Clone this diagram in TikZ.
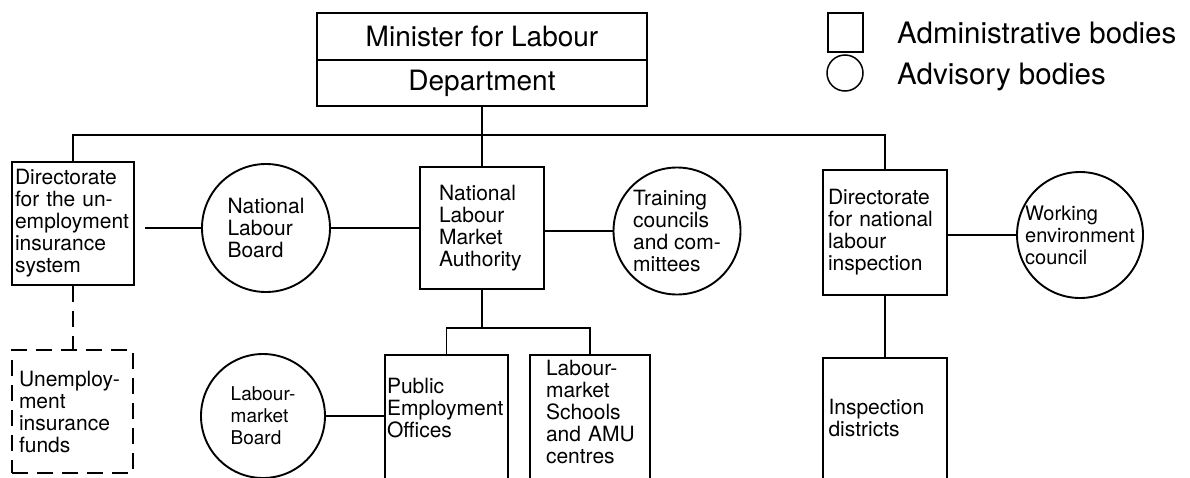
\documentclass[tikz,border=0pt]{standalone}
\usepackage{fontspec}
\setmainfont{TeX Gyre Heros}
\begin{document}
\begin{tikzpicture}[x=1pt,y=-1pt,
  every node/.style={font=\fontsize{21}{22}\selectfont, inner ysep=0pt},
  ln/.style={line width=1.9pt},
  box/.style={draw, line width=1.9pt, align=left},
  openbox/.style={align=left},
  body/.style={draw, circle, line width=1.9pt, inner sep=0pt, align=left},
  dsh/.style={line width=1.9pt, dash pattern=on 16pt off 9pt},
  big/.style={font=\fontsize{28}{30}\selectfont},
  leg/.style={font=\fontsize{29.5}{32}\selectfont}
]
\useasboundingbox (0,0) rectangle (1190,477);
% top
\node[box, big, minimum width=330pt, minimum height=47pt] (minister) at (482,36.5) {Minister for Labour};
\node[box, big, minimum width=330pt, minimum height=46pt] (dept) at (482,83) {Department};
% middle row
\node[box, text width=116pt, inner xsep=3pt, minimum height=123pt] (dirU) at (73,223.5) {Directorate\\for the un-\\employment\\insurance\\system};
\node[body, minimum size=128pt] (nlb) at (266,228) {National\\Labour\\Board};
\node[box, text width=86pt, inner xsep=19pt, minimum height=122pt] (nlma) at (482,228) {National\\Labour\\Market\\Authority};
\node[body, minimum size=127pt] (train) at (677,231) {Training\\councils\\and com-\\mittees};
\node[box, text width=114pt, inner xsep=5pt, minimum height=125pt] (dirN) at (885,232.5) {Directorate\\for national\\labour\\inspection};
\node[body, minimum size=126pt, font=\fontsize{20}{22}\selectfont] (wec) at (1080,235) {Working\\environment\\council};
% bottom row
\node[box, dsh, text width=107pt, inner xsep=7pt, minimum height=123pt] (uif) at (72.5,411.5) {Unemploy-\\ment\\insurance\\funds};
\node[body, minimum size=124pt, font=\fontsize{19}{22}\selectfont] (lmb) at (263,416) {Labour-\\market\\Board};
\node[openbox, text width=119pt, inner xsep=2pt, minimum height=106pt] (peo) at (446.5,408) {Public\\Employment\\Offices};
\node[openbox, text width=98pt, inner xsep=11pt, minimum height=113pt] (lms) at (590,411.5) {\hspace*{5pt}Labour-\\\hspace*{5pt}market\\\hspace*{5pt}Schools\\\hspace*{5pt}and AMU\\\hspace*{5pt}centres};
\node[openbox, text width=113pt, inner xsep=5pt, minimum height=120pt] (insp) at (885,418) {Inspection\\districts};
\coordinate (bot) at (0,479);
\draw[ln] (peo.north west |- bot) -- (peo.north west) -- (peo.north east) -- (peo.north east |- bot);
\draw[ln] (lms.north west |- bot) -- (lms.north west) -- (lms.north east) -- (lms.north east |- bot);
\draw[ln] (insp.north west |- bot) -- (insp.north west) -- (insp.north east) -- (insp.north east |- bot);
% legend
\node[draw, line width=1.5pt, minimum width=35pt, minimum height=39pt, inner sep=0pt] (legsq) at (845.5,32.5) {};
\node[draw, circle, line width=1.5pt, minimum size=36pt, inner sep=0pt] (legci) at (845,73) {};
\node[leg, anchor=base west, inner sep=0pt] (legA) at (897,43.5) {Administrative bodies};
\node[leg, anchor=base west, inner sep=0pt] (legB) at (897,84) {Advisory bodies};
% connectors
\coordinate (bus) at (482,135);
\draw[ln] (dirU.north) |- (bus) -| (dirN.north);
\draw[ln] (dept.south) -- (nlma.north);
\coordinate (gapU) at (145,228);
\draw[ln] (gapU) -- (nlb.west);
\draw[ln] (nlb.east) -- (nlb.east -| nlma.west);
\draw[ln] (nlma.east |- train.west) -- (train.west);
\draw[ln] (dirN.east |- wec.west) -- (wec.west);
\draw[dsh] (dirU.south) -- (dirU.south |- uif.north);
\coordinate (split) at (482,328);
\draw[ln] (nlma.south) -- (split);
\draw[ln] (peo.north) |- (split) -| (lms.north);
\draw[ln] (lmb.east) -- (lmb.east -| peo.west);
\draw[ln] (dirN.south) -- (insp.north);
\end{tikzpicture}
\end{document}
